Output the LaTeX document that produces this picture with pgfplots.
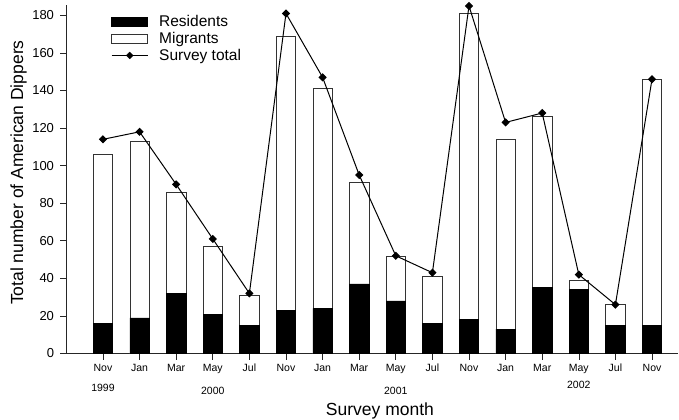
\documentclass[border=0pt]{standalone}
\usepackage{fontspec}
\setmainfont{Liberation Sans}
\usepackage{pgfplots}
\usepackage{pgfplotstable}
\pgfplotsset{compat=1.18}

% survey counts: residents, migrants, survey total
\pgfplotstableread{
x  res mig tot
0  16  90  114
1  19  94  118
2  32  54  90
3  21  36  61
4  15  16  32
5  23  146 181
6  24  117 147
7  37  54  95
8  28  24  52
9  16  25  43
10 18  163 185
11 13  101 123
12 35  91  128
13 34  5   42
14 15  11  26
15 15  131 146
}\dippers

\begin{document}
\begin{tikzpicture}
\begin{axis}[
  scale only axis, width=612bp, height=348.5bp,
  xmin=-1.01, xmax=15.71, ymin=0, ymax=185.5,
  clip=false,
  axis x line*=bottom, axis y line*=left,
  axis line style={line width=0.6bp, black!85},
  tick align=outside, major tick length=6bp,
  tick style={line width=0.6bp, black!85},
  xtick={0,...,15},
  xticklabels={Nov,Jan,Mar,May,Jul,Nov,Jan,Mar,May,Jul,Nov,Jan,Mar,May,Jul,Nov},
  ytick={0,20,...,180},
  /pgf/number format/assume math mode=true,
  x tick label style={font=\fontsize{10.5bp}{12bp}\selectfont, yshift=-1bp},
  y tick label style={font=\fontsize{13bp}{15bp}\selectfont, xshift=-2.5bp},
  xlabel={Survey month},
  ylabel={Total number of American Dippers},
  label style={font=\fontsize{17.5bp}{21bp}\selectfont},
  xlabel style={at={(axis description cs:0.513,0)}, anchor=center, yshift=-57bp},
  ylabel style={at={(axis description cs:-0.0776,0.519)}, anchor=center},
  legend style={at={(axis description cs:0,1)}, anchor=north west,
    xshift=42bp, yshift=-6.5bp, draw=none, fill=none, column sep=9bp,
    font=\fontsize{15.5bp}{17bp}\selectfont},
  legend cell align=left,
]
\addlegendimage{legend image code/.code={\draw[fill=black,draw=black] (0bp,-4.5bp) rectangle (36bp,4.5bp);}}
\addlegendentry{Residents}
\addlegendimage{legend image code/.code={\draw[fill=white,draw=black!80,line width=0.6bp] (0bp,-4.5bp) rectangle (36bp,4.5bp);}}
\addlegendentry{Migrants}
\addlegendimage{legend image code/.code={\draw[black,line width=1bp] (0bp,0bp) -- (36bp,0bp);
  \fill[black] (18bp,0bp) +(0,3.4bp) -- +(3.4bp,0) -- +(0,-3.4bp) -- +(-3.4bp,0) -- cycle;}}
\addlegendentry{Survey total}

\addplot[ybar, bar width=0.53, bar shift=0pt, fill=white, draw=black!80, line width=0.6bp, forget plot]
  table[x=x, y expr=\thisrow{res}+\thisrow{mig}] {\dippers};
\addplot[ybar, bar width=0.53, bar shift=0pt, fill=black, draw=black, line width=0.6bp, forget plot]
  table[x=x, y=res] {\dippers};
\addplot[black, line width=1bp, mark=square*, mark size=2.4bp, mark options={rotate=45}, forget plot]
  table[x=x, y=tot] {\dippers};

\node[font=\fontsize{10.5bp}{12bp}\selectfont, yshift=-34.5bp] at (axis cs:0,0) {1999};
\node[font=\fontsize{10.5bp}{12bp}\selectfont, yshift=-37.5bp] at (axis cs:3,0) {2000};
\node[font=\fontsize{10.5bp}{12bp}\selectfont, yshift=-37bp] at (axis cs:8,0) {2001};
\node[font=\fontsize{10.5bp}{12bp}\selectfont, yshift=-31.7bp] at (axis cs:13,0) {2002};
\end{axis}
\pgfresetboundingbox
\path (-66bp,-66.5bp) rectangle (613bp,353.5bp);
\end{tikzpicture}
\end{document}
